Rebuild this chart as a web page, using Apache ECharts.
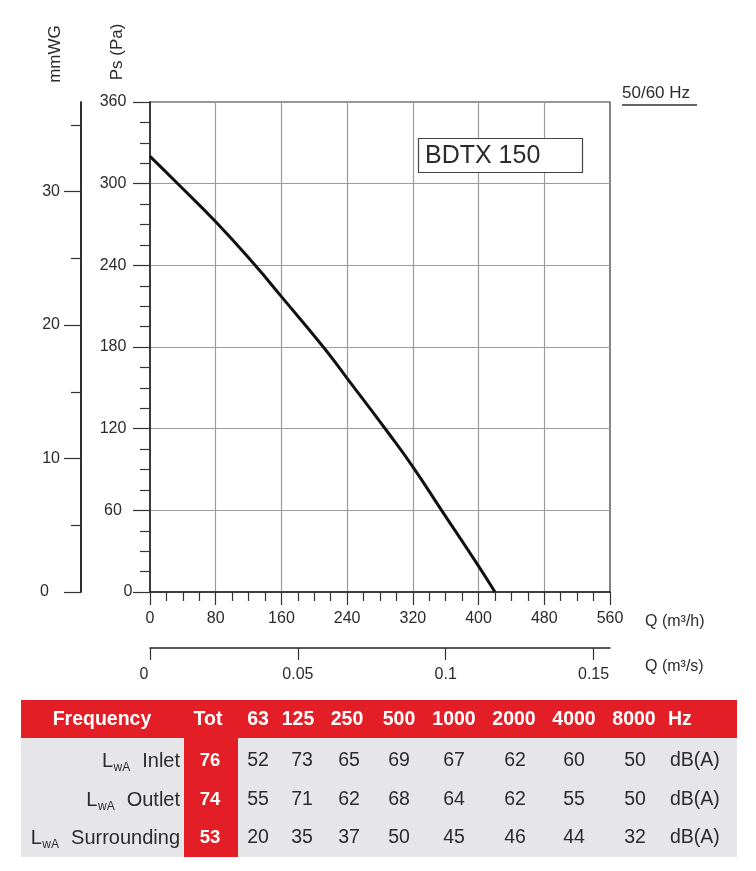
<!DOCTYPE html>
<html>
<head>
<meta charset="utf-8">
<script src="https://cdn.jsdelivr.net/npm/echarts@6/dist/echarts.min.js"></script>
<style>
html,body{margin:0;padding:0;background:#fff;}
#chart{width:756px;height:871px;}
</style>
</head>
<body>
<div id="chart"></div>
<script>
// ---------- data ----------
const flowQ = [0, 32, 80, 128, 160, 211, 240, 290, 320, 355, 400, 420];      // m3/h
const pressurePs = [320, 301, 272, 240, 217, 180, 157, 117, 92, 60, 19, 0];  // Pa
const qTicksM3h = [0, 80, 160, 240, 320, 400, 480, 560];
const qTicksM3s = [0, 0.05, 0.1, 0.15];
const psTicks = [0, 60, 120, 180, 240, 300, 360];
const mmwgLabels = [0, 10, 20, 30];
const mmwgMinor = [5, 15, 25, 35];
const modelName = 'BDTX 150';
const freqLabel = '50/60 Hz';
const tableHead = ['Frequency', 'Tot', '63', '125', '250', '500', '1000', '2000', '4000', '8000', 'Hz'];
const rowNames = ['Inlet', 'Outlet', 'Surrounding'];
const totals = [76, 74, 53];
const inletValues = [52, 73, 65, 69, 67, 62, 60, 50];
const outletValues = [55, 71, 62, 68, 64, 62, 55, 50];
const surroundingValues = [20, 35, 37, 50, 45, 46, 44, 32];
const unitLabel = 'dB(A)';

// ---------- layout ----------
const FONT = '"Liberation Sans", Arial, sans-serif';
const TXT = '#2b2b2b';
const RED = '#e31e26';
const PA_PER_MMWG = 9.80665;
const G = {left: 150, top: 102, width: 460, height: 490};

const headX = [102, 208, 258, 298, 347, 399, 454, 514, 574, 634, 668];
const valX = [210, 258, 302, 349, 399, 454, 515, 574, 635];
const unitX = 670;
const headY = 720;
const rowY = [761, 800, 838];
const labelRight = 180;

const cv = document.createElement('canvas').getContext('2d');
function tw(text, size, weight) {
  cv.font = (weight || 'normal') + ' ' + size + 'px ' + FONT;
  return cv.measureText(text).width;
}
function txt(text, x, y, size, opts) {
  opts = opts || {};
  return {
    type: 'text', x: x, y: y, z: opts.z || 50, silent: true,
    style: {
      text: text, fill: opts.fill || TXT,
      font: (opts.weight || 'normal') + ' ' + size + 'px ' + FONT,
      align: opts.align || 'left', textAlign: opts.align || 'left',
      verticalAlign: opts.va || 'middle', textVerticalAlign: opts.va || 'middle'
    },
    rotation: opts.rotation || 0
  };
}

const graphics = [];
// axis names
graphics.push(txt('mmWG', 55, 54, 17, {align: 'center', rotation: Math.PI / 2}));
graphics.push(txt('Ps (Pa)', 117, 52, 17, {align: 'center', rotation: Math.PI / 2}));
graphics.push(txt('Q (m³/h)', 645, 622, 16));
graphics.push(txt('Q (m³/s)', 645, 667, 16));
// 50/60 Hz
graphics.push(txt(freqLabel, 622, 93, 17));
graphics.push({type: 'line', silent: true, shape: {x1: 622, y1: 105, x2: 697, y2: 105}, style: {stroke: '#333', lineWidth: 1.5}});
// model box
graphics.push({type: 'rect', z: 60, silent: true, shape: {x: 418.5, y: 138.5, width: 164, height: 34}, style: {fill: '#fff', stroke: '#444', lineWidth: 1.2}});
graphics.push(txt(modelName, 425, 156, 25, {z: 61}));

// table backgrounds
graphics.push({type: 'rect', silent: true, shape: {x: 21, y: 700, width: 716, height: 38}, style: {fill: RED}});
graphics.push({type: 'rect', silent: true, shape: {x: 21, y: 738, width: 716, height: 119}, style: {fill: '#e6e6e8'}});
graphics.push({type: 'rect', silent: true, shape: {x: 184, y: 738, width: 54, height: 119}, style: {fill: RED}});
// header
tableHead.forEach(function (h, i) {
  const align = (i === tableHead.length - 1) ? 'left' : 'center';
  graphics.push(txt(h, headX[i], headY, 19.5, {fill: '#fff', weight: 'bold', align: align}));
});
// rows
const rows = [inletValues, outletValues, surroundingValues];
rows.forEach(function (vals, r) {
  const y = rowY[r];
  const nameW = tw(rowNames[r], 20);
  graphics.push(txt(rowNames[r], labelRight, y, 20, {align: 'right'}));
  const subRight = labelRight - nameW - 12;
  const subW = tw('wA', 12);
  graphics.push(txt('wA', subRight, y + 7, 12, {align: 'right'}));
  graphics.push(txt('L', subRight - subW - 0.5, y, 20, {align: 'right'}));
  graphics.push(txt(String(totals[r]), valX[0], y, 18.5, {fill: '#fff', weight: 'bold', align: 'center'}));
  vals.forEach(function (v, i) {
    graphics.push(txt(String(v), valX[i + 1], y, 19.5, {align: 'center'}));
  });
  graphics.push(txt(unitLabel, unitX, y, 19.5));
});

const axisLineStyle = {color: '#222', width: 1.5};
const tickLineStyle = {color: '#333', width: 1.2};

const option = {
  backgroundColor: '#fff',
  animation: false,
  textStyle: {fontFamily: FONT},
  grid: [
    {left: G.left, top: G.top, width: G.width, height: G.height, show: true, borderColor: '#333', borderWidth: 1.2, backgroundColor: 'transparent'},
    {left: G.left, top: 600, width: G.width, height: 48}
  ],
  xAxis: [
    {
      type: 'value', gridIndex: 0, min: qTicksM3h[0], max: qTicksM3h[qTicksM3h.length - 1], interval: 80,
      axisLine: {show: true, onZero: false, lineStyle: axisLineStyle},
      axisTick: {show: true, length: 13, lineStyle: tickLineStyle},
      minorTick: {show: true, splitNumber: 4, length: 9, lineStyle: tickLineStyle},
      axisLabel: {fontSize: 16, color: TXT, margin: 19, fontFamily: FONT},
      splitLine: {show: true, showMinLine: false, showMaxLine: false, lineStyle: {color: '#9c9c9c', width: 1.2}}
    },
    {
      type: 'value', gridIndex: 1, min: 0, max: 560 / 3600, position: 'bottom',
      axisLine: {show: true, onZero: false, lineStyle: axisLineStyle},
      axisTick: {show: true, customValues: qTicksM3s, length: 12, lineStyle: tickLineStyle},
      axisLabel: {
        customValues: qTicksM3s, fontSize: 16, color: TXT, margin: 19, fontFamily: FONT,
        formatter: function (v) { return v === 0 ? '{z|0}' : String(+v.toFixed(2)); },
        rich: {z: {padding: [0, 12, 0, 0], fontSize: 16, color: TXT, fontFamily: FONT}}
      },
      splitLine: {show: false}
    }
  ],
  yAxis: [
    {
      type: 'value', gridIndex: 0, min: psTicks[0], max: psTicks[psTicks.length - 1], interval: 60,
      axisLine: {show: true, onZero: false, lineStyle: axisLineStyle},
      axisTick: {show: true, length: 17, lineStyle: tickLineStyle},
      minorTick: {show: true, splitNumber: 4, length: 10, lineStyle: tickLineStyle},
      axisLabel: {
        fontSize: 16, color: TXT, margin: 37, align: 'center', fontFamily: FONT,
        formatter: function (v) { return v === 0 ? '{z|0}' : String(v); },
        rich: {z: {padding: [0, 0, 0, 30], fontSize: 16, color: TXT, fontFamily: FONT}}
      },
      splitLine: {show: true, showMinLine: false, showMaxLine: false, lineStyle: {color: '#9c9c9c', width: 1.2}}
    },
    {
      type: 'value', gridIndex: 0, position: 'left', offset: 69, min: 0, max: 360 / PA_PER_MMWG,
      axisLine: {show: true, onZero: false, lineStyle: axisLineStyle},
      axisTick: {show: true, customValues: mmwgLabels, length: 17, lineStyle: tickLineStyle},
      axisLabel: {
        customValues: mmwgLabels, fontSize: 16, color: TXT, margin: 21, fontFamily: FONT,
        formatter: function (v) { return v === 0 ? '{z|0}' : String(v); },
        rich: {z: {padding: [0, 11, 0, 0], fontSize: 16, color: TXT, fontFamily: FONT}}
      },
      splitLine: {show: false}
    },
    {
      type: 'value', gridIndex: 0, position: 'left', offset: 69, min: 0, max: 360 / PA_PER_MMWG,
      axisLine: {show: true, onZero: false, lineStyle: axisLineStyle},
      axisTick: {show: true, customValues: mmwgMinor, length: 10, lineStyle: tickLineStyle},
      axisLabel: {show: false},
      splitLine: {show: false}
    },
    {type: 'value', gridIndex: 1, show: false, min: 0, max: 1}
  ],
  series: [{
    type: 'line', xAxisIndex: 0, yAxisIndex: 0,
    data: flowQ.map(function (q, i) { return [q, pressurePs[i]]; }),
    smooth: 0.5, symbol: 'none', showSymbol: false,
    lineStyle: {color: '#111', width: 3}, z: 5
  }],
  graphic: {elements: graphics}
};

const chart = echarts.init(document.getElementById('chart'), null, {renderer: 'canvas'});
chart.setOption(option);
</script>
</body>
</html>
